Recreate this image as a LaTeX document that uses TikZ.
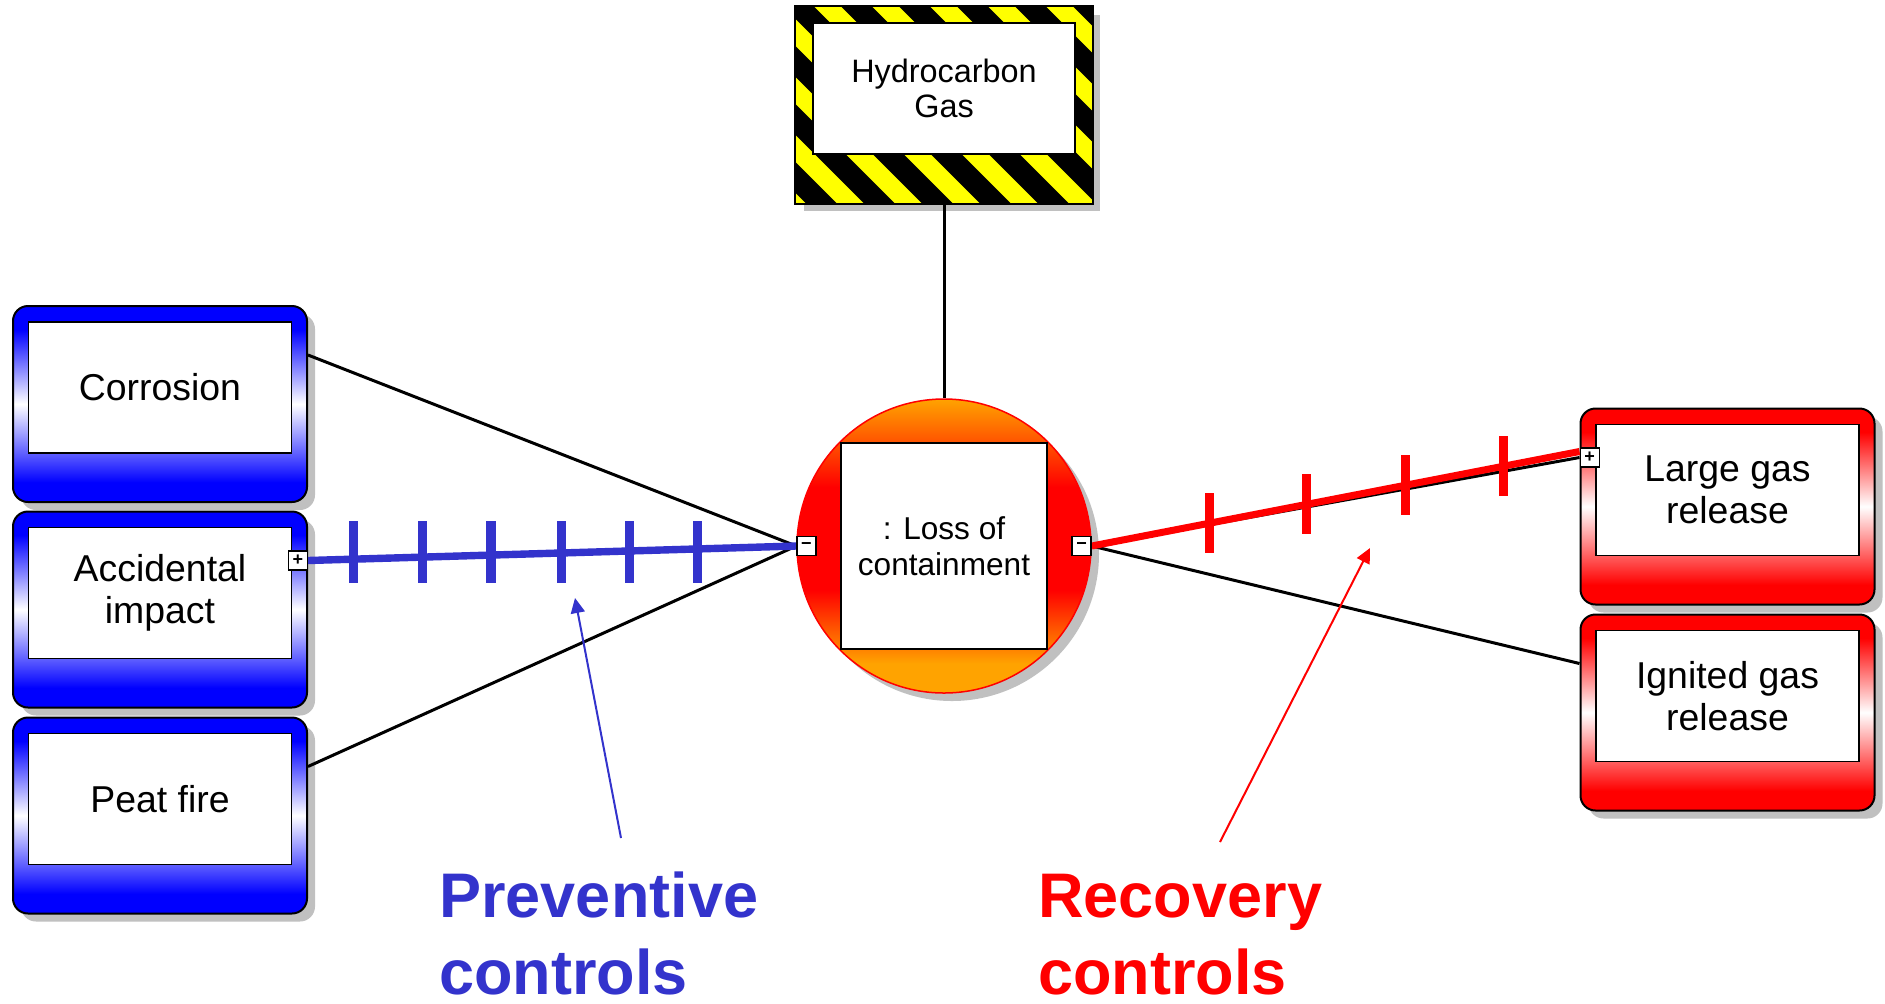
\documentclass[tikz,border=0pt]{standalone}
\usepackage{fontspec}
\setmainfont{Liberation Sans}
\usetikzlibrary{shadows,arrows.meta,calc}

\definecolor{ctrlblue}{RGB}{51,51,204}
\definecolor{ctrlred}{RGB}{255,0,0}
\definecolor{threatblue}{RGB}{0,0,255}
\definecolor{consred}{RGB}{255,0,0}
\definecolor{hazyellow}{RGB}{255,255,0}
\definecolor{shadowgrey}{RGB}{192,192,192}
\definecolor{eventorange}{RGB}{255,163,0}

% vertical fills: colour stops are measured from the bottom, 25bp..75bp spans the shape
\pgfdeclareverticalshading{threatfill}{100bp}{color(0bp)=(threatblue); color(30bp)=(threatblue); color(50bp)=(white); color(69bp)=(threatblue); color(100bp)=(threatblue)}
\pgfdeclareverticalshading{consfill}{100bp}{color(0bp)=(consred); color(30bp)=(consred); color(50bp)=(white); color(69bp)=(consred); color(100bp)=(consred)}
\pgfdeclareverticalshading{eventfill}{100bp}{color(0bp)=(eventorange); color(30bp)=(eventorange); color(42.5bp)=(consred); color(60bp)=(consred); color(75bp)=(eventorange); color(100bp)=(eventorange)}

\pgfdeclarelayer{front}
\pgfsetlayers{main,front}

\tikzset{
  greyshadow/.style={drop shadow={shadow xshift=4pt, shadow yshift=-4pt, fill=shadowgrey, opacity=1}},
  threatbox/.style={shade, shading=threatfill, draw=black, line width=1pt, rounded corners=7.5pt,
    minimum width=147pt, minimum height=98pt, inner sep=0pt, greyshadow},
  consbox/.style={threatbox, shading=consfill},
  textpanel/.style={draw=black, fill=white, line width=0.8pt, minimum width=131.5pt, minimum height=65.5pt,
    inner sep=0pt, align=center, font=\fontsize{18.7}{21.3}\selectfont},
  pmbox/.style={draw=black, fill=white, line width=0.7pt, minimum size=9.5pt, inner sep=0pt,
    font=\fontsize{9}{9}\selectfont\bfseries},
  link/.style={draw=black, line width=1.5pt},
  bluebarrier/.style={draw=ctrlblue, line width=3.7pt},
  redbarrier/.style={draw=ctrlred, line width=3.5pt},
  bluetick/.style={draw=ctrlblue, line width=4.6pt},
  redtick/.style={draw=ctrlred, line width=4.5pt},
  pointer/.style={line width=1pt, -{Triangle[length=7.5pt,width=7pt]}},
  ctrllabel/.style={anchor=base west, align=left, inner sep=0pt, font=\fontsize{31.5}{38.5}\selectfont\bfseries}
}

\begin{document}
\begin{tikzpicture}[x=0.5pt, y=-0.5pt]
\fill[white] (0,0) rectangle (1885,1003);
\useasboundingbox (0,0) rectangle (1885,1003);

% hazard with black and yellow warning stripes
\node[rectangle, draw=black, fill=black, line width=1pt, minimum width=148pt, minimum height=98pt,
      inner sep=0pt, greyshadow] (hazard) at (944,105) {};
\begin{scope}
  \clip (hazard.south west) rectangle (hazard.north east);
  \foreach \k in {-3,...,7}
    \draw[hazyellow, line width=9.5pt] ({705+58*\k-20},-20) -- ({705+58*\k+230},230);
\end{scope}
\draw[black, line width=1pt] (hazard.south west) rectangle (hazard.north east);
\node[textpanel, minimum width=131pt, font=\fontsize{16.2}{17.5}\selectfont] (hazardT) at (944,88.5) {Hydrocarbon\\Gas};

% top event
\node[circle, shade, shading=eventfill, draw=consred, line width=0.75pt, minimum size=147pt,
      inner sep=0pt, greyshadow] (loss) at (944,546) {};
\node[textpanel, minimum width=103pt, minimum height=103pt, font=\fontsize{15.8}{18}\selectfont] (lossT) at (944,546) {: Loss of\\containment};

% threats
\node[threatbox] (corr) at (160,404) {};
\node[textpanel] (corrT) at (160,387.5) {Corrosion};
\node[threatbox] (acc) at (160,609.5) {};
\node[textpanel] (accT) at (160,593) {Accidental\\impact};
\node[threatbox] (peat) at (160,815.5) {};
\node[textpanel] (peatT) at (160,799) {Peat fire};

% consequences
\node[consbox] (large) at (1727.5,506.5) {};
\node[textpanel] (largeT) at (1727.5,490) {Large gas\\release};
\node[consbox] (ign) at (1727.5,712.5) {};
\node[textpanel] (ignT) at (1727.5,696) {Ignited gas\\release};

% expand / collapse markers
\begin{pgfonlayer}{front}
  \node[pmbox, anchor=east] (accplus) at ([yshift=24.5pt]acc.east) {+};
  \node[pmbox, anchor=west] (largeplus) at ([yshift=24.5pt]large.west) {+};
  \node[pmbox, anchor=west] (lminus) at (loss.west) {−};
  \node[pmbox, anchor=east] (rminus) at (loss.east) {−};
\end{pgfonlayer}

% connectors
\draw[link] (hazard.south) -- (loss.north);
\draw[link] ([yshift=24.5pt]corr.east) -- (lminus.west);
\draw[link] ([yshift=24.5pt]peat.east) -- (lminus.west);
\draw[link] (accplus.east) -- (lminus.west);
\draw[link] (rminus.east) -- (largeplus.west);
\draw[link] (rminus.east) -- ([yshift=24.5pt]ign.west);

% preventive barriers
\draw[bluebarrier] (accplus.east) -- (lminus.west);
\foreach \t in {0.094,0.234,0.375,0.519,0.659,0.798} {
  \path ($(accplus.east)!\t!(lminus.west)$) coordinate (tb);
  \draw[bluetick] (tb |- 0,521) -- (tb |- 0,583);
}

% recovery barriers
\draw[redbarrier] (rminus.east) -- ([yshift=3pt]largeplus.west);
\foreach \t in {0.241,0.441,0.643,0.845} {
  \path ($(rminus.east)!\t!([yshift=3pt]largeplus.west)$) coordinate (tr);
  \draw[redtick] ([yshift=15pt]tr) -- ([yshift=-15pt]tr);
}

% captions with pointers
\node[ctrllabel, text=ctrlblue] (prevlabel) at (439,994) {Preventive\\controls};
\node[ctrllabel, text=ctrlred] (reclabel) at (1038,994) {Recovery\\controls};
\coordinate (prevtail) at (621,838);
\coordinate (prevtip) at (575,598);
\coordinate (rectail) at (1220,842);
\coordinate (rectip) at (1370,548);
\draw[pointer, draw=ctrlblue, fill=ctrlblue] (prevtail) -- (prevtip);
\draw[pointer, draw=ctrlred, fill=ctrlred] (rectail) -- (rectip);
\end{tikzpicture}
\end{document}
